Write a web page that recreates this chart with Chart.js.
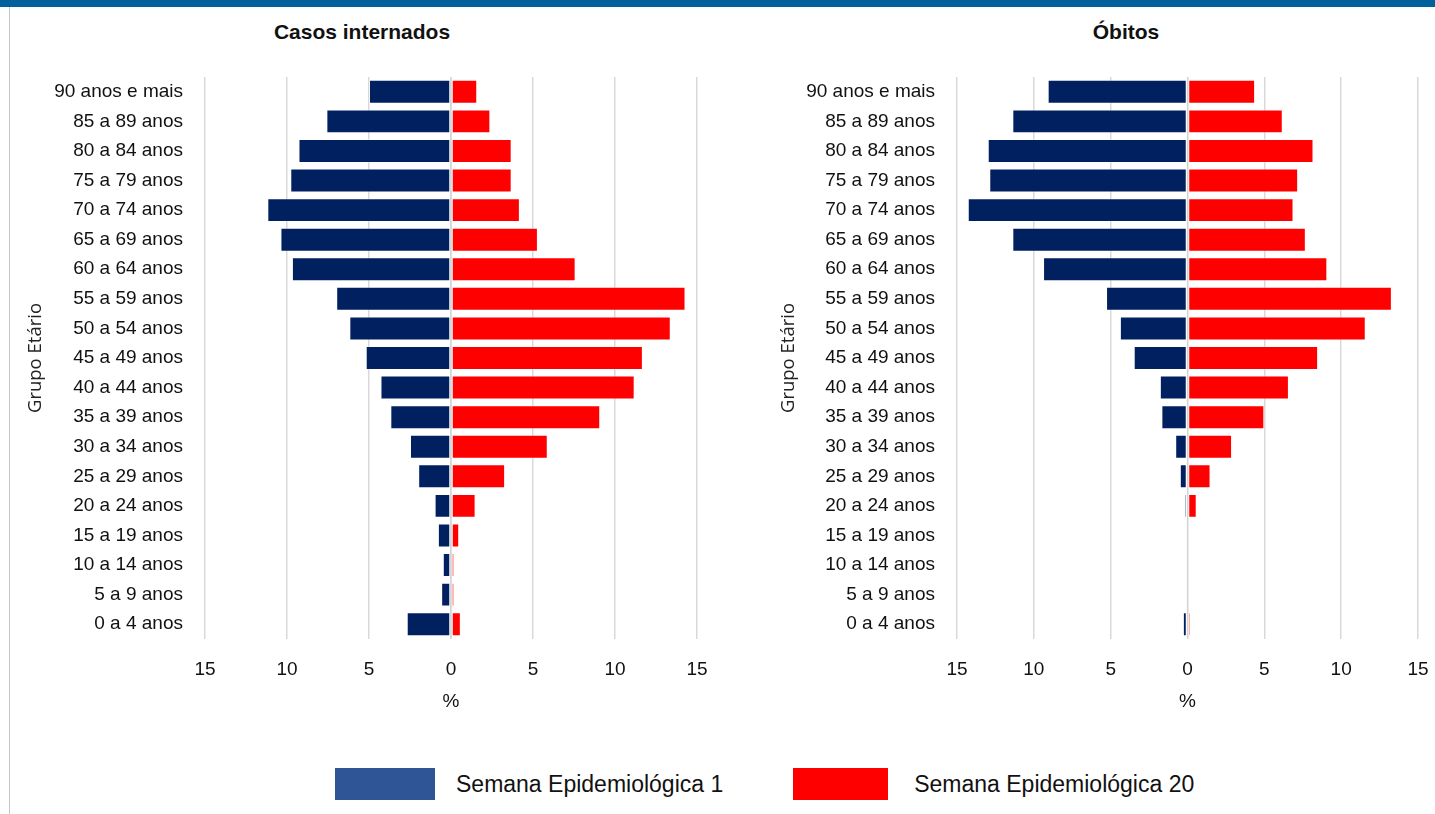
<!DOCTYPE html>
<html lang="pt">
<head>
<meta charset="utf-8">
<title>Pirâmides etárias — casos internados e óbitos</title>
<script src="https://cdn.jsdelivr.net/npm/chart.js@4.4.1/dist/chart.umd.min.js"></script>
<style>
  html, body { margin: 0; padding: 0; background: #fff; }
  body { width: 1435px; height: 814px; position: relative; overflow: hidden;
         font-family: "Liberation Sans", Arial, sans-serif; color: #111; }
  #banner { position: absolute; left: 0; top: 0; width: 1435px; height: 7px; background: #00609c; }
  #frame { position: absolute; left: 9px; top: 7px; width: 1px; height: 807px; background: #c8c8c8; }
  .ttl { position: absolute; top: 18px; font-weight: bold; font-size: 21px; line-height: 28px;
         transform: translateX(-50%); white-space: nowrap; }
  .wrap { position: absolute; top: 50px; height: 680px; }
  #legend { position: absolute; top: 768px; left: 335px; height: 32px; display: flex; align-items: center;
            font-size: 23px; white-space: nowrap; }
  #legend .item { display: flex; align-items: center; }
  #legend .sw { height: 32px; display: inline-block; }
</style>
</head>
<body>
<div id="banner"></div>
<div id="frame"></div>
<div class="ttl" style="left:362px">Casos internados</div>
<div class="ttl" style="left:1126px">Óbitos</div>
<div class="wrap" style="left:10px;width:705px"><canvas id="cHosp" width="705" height="680"></canvas></div>
<div class="wrap" style="left:740px;width:695px"><canvas id="cDeath" width="695" height="680"></canvas></div>
<div id="legend"></div>

<script>
// Age groups, listed from the top row of the pyramid down
const ageGroups = [
  '90 anos e mais', '85 a 89 anos', '80 a 84 anos', '75 a 79 anos', '70 a 74 anos',
  '65 a 69 anos', '60 a 64 anos', '55 a 59 anos', '50 a 54 anos', '45 a 49 anos',
  '40 a 44 anos', '35 a 39 anos', '30 a 34 anos', '25 a 29 anos', '20 a 24 anos',
  '15 a 19 anos', '10 a 14 anos', '5 a 9 anos', '0 a 4 anos'
];

// Share (%) of hospitalised cases by age group
const hospWeek1  = [5.0, 7.6, 9.3, 9.8, 11.2, 10.4, 9.7, 7.0, 6.2, 5.2, 4.3, 3.7, 2.5, 2.0, 1.0, 0.8, 0.5, 0.6, 2.7];
const hospWeek20 = [1.6, 2.4, 3.7, 3.7, 4.2, 5.3, 7.6, 14.3, 13.4, 11.7, 11.2, 9.1, 5.9, 3.3, 1.5, 0.5, 0.2, 0.2, 0.6];

// Share (%) of deaths by age group
const deathWeek1  = [9.1, 11.4, 13.0, 12.9, 14.3, 11.4, 9.4, 5.3, 4.4, 3.5, 1.8, 1.7, 0.8, 0.5, 0.2, 0.1, 0, 0.1, 0.3];
const deathWeek20 = [4.4, 6.2, 8.2, 7.2, 6.9, 7.7, 9.1, 13.3, 11.6, 8.5, 6.6, 5.0, 2.9, 1.5, 0.6, 0.1, 0, 0, 0.2];

const seriesNames = ['Semana Epidemiológica 1', 'Semana Epidemiológica 20'];
const xTicks = [-15, -10, -5, 0, 5, 10, 15];

const barColors = ['#002060', '#ff0000'];
const legendColors = ['#2f5597', '#ff0000'];
const tickFont = { family: '"Liberation Sans", Arial, sans-serif', size: 19 };
const axisTitleFont = { family: '"Open Sans", "Noto Sans", sans-serif', size: 18.5 };

// Draws the zero line above the bars so both halves stay separated
const zeroLine = {
  id: 'zeroLine',
  afterDatasetsDraw(chart) {
    const x = chart.scales.x.getPixelForValue(0);
    const { top, bottom } = chart.chartArea;
    const ctx = chart.ctx;
    ctx.save();
    ctx.strokeStyle = '#d4d4d4';
    ctx.lineWidth = 1.2;
    ctx.beginPath();
    ctx.moveTo(x, top);
    ctx.lineTo(x, bottom);
    ctx.stroke();
    ctx.restore();
  }
};

function pyramid(canvasId, left, right, geo) {
  return new Chart(document.getElementById(canvasId), {
    type: 'bar',
    data: {
      labels: ageGroups,
      datasets: [
        { label: seriesNames[0], data: left.map(v => -v), backgroundColor: barColors[0] },
        { label: seriesNames[1], data: right, backgroundColor: barColors[1] }
      ].map(d => Object.assign(d, {
        borderColor: 'rgba(255,255,255,0.35)', borderWidth: 1, borderSkipped: false,
        barPercentage: 0.81, categoryPercentage: 1
      }))
    },
    options: {
      indexAxis: 'y',
      responsive: false,
      animation: false,
      events: [],
      layout: { padding: { top: 27, right: geo.padRight, left: 0, bottom: 0 } },
      plugins: { legend: { display: false }, tooltip: { enabled: false }, title: { display: false } },
      scales: {
        x: {
          stacked: true,
          min: xTicks[0], max: xTicks[xTicks.length - 1],
          afterBuildTicks(scale) { scale.ticks = xTicks.map(v => ({ value: v })); },
          afterFit(scale) { scale.height = 91; scale.paddingLeft = 0; scale.paddingRight = 0; },
          grid: { color: '#d9d9d9', lineWidth: 1.5, drawTicks: false },
          border: { display: false },
          ticks: { padding: 19, color: '#111', font: tickFont, callback: v => Math.abs(v) },
          title: { display: true, text: '%', color: '#111', font: tickFont, padding: { top: 0, bottom: 17 } }
        },
        y: {
          stacked: true,
          afterFit(scale) { scale.width = geo.axisWidth; scale.paddingTop = 0; scale.paddingBottom = 0; },
          grid: { display: false, drawTicks: false },
          border: { display: false },
          ticks: { padding: 22, color: '#111', font: tickFont, autoSkip: false },
          title: { display: true, text: 'Grupo Etário', color: '#222', font: axisTitleFont,
                   padding: { top: geo.titlePad, bottom: 0 } }
        }
      }
    },
    plugins: [zeroLine]
  });
}

pyramid('cHosp', hospWeek1, hospWeek20, { axisWidth: 195, padRight: 18, titlePad: 15 });
pyramid('cDeath', deathWeek1, deathWeek20, { axisWidth: 217, padRight: 17, titlePad: 38 });

// Shared legend under both pyramids
const legend = document.getElementById('legend');
seriesNames.forEach((name, i) => {
  const item = document.createElement('div');
  item.className = 'item';
  item.style.marginRight = i === 0 ? '70px' : '0';
  const sw = document.createElement('span');
  sw.className = 'sw';
  sw.style.width = (i === 0 ? 100 : 95) + 'px';
  sw.style.background = legendColors[i];
  sw.style.marginRight = (i === 0 ? 21 : 26) + 'px';
  const txt = document.createElement('span');
  txt.textContent = name;
  item.appendChild(sw);
  item.appendChild(txt);
  legend.appendChild(item);
});
</script>
</body>
</html>
